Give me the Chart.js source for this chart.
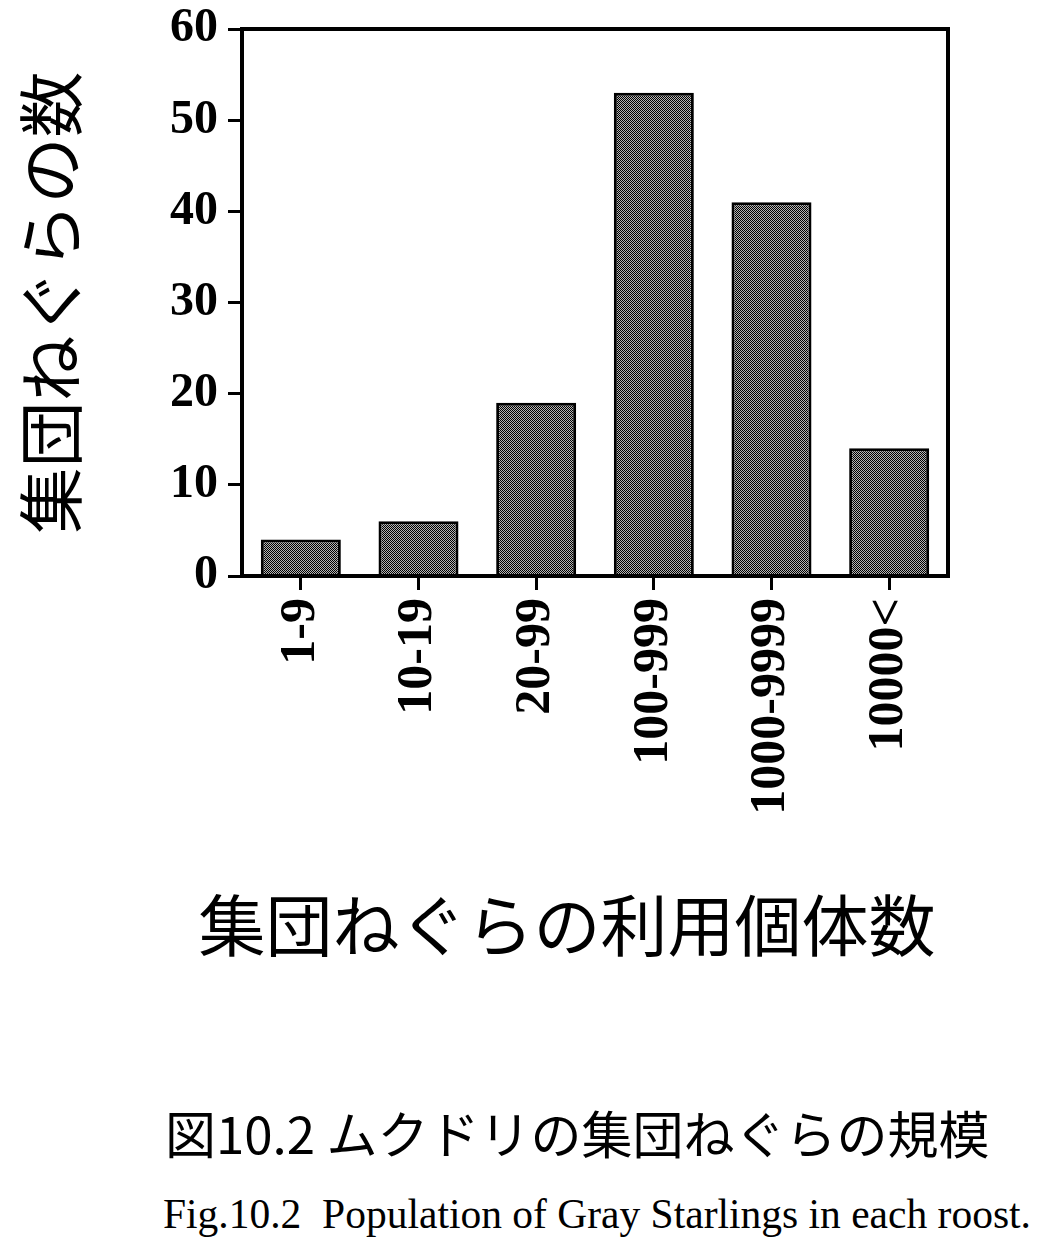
<!DOCTYPE html>
<html lang="ja">

<head>
    <meta charset="UTF-8">
    <title>ムクドリの集団ねぐらの規模</title>
    <script src="https://cdn.jsdelivr.net/npm/chart.js"></script>
    <style>
        body { margin: 0; background: #fff; width: 1052px; height: 1251px; position: relative; overflow: hidden; }
        .chart-box { position: absolute; left: 0; top: 0; width: 1052px; height: 980px; }
        .x-title { position: absolute; left: 0; width: 1134px; top: 877px; text-align: center; font-family: "Noto Sans CJK JP", sans-serif; font-size: 67px; line-height: 90px; color: #000; white-space: nowrap; }
        .cap-jp { position: absolute; left: 165px; top: 1099px; font-family: "Noto Sans CJK JP", sans-serif; font-size: 51px; line-height: 66px; color: #000; white-space: nowrap; }
        .cap-en { position: absolute; left: 163px; top: 1190px; font-family: "Liberation Serif", serif; font-size: 41.5px; line-height: 48px; color: #000; white-space: nowrap; }
    </style>
</head>

<body>

    <div class="chart-box">
        <canvas id="roost-chart"></canvas>
    </div>
    <div class="x-title" id="x-title"></div>
    <div class="cap-jp">図10.2 ムクドリの集団ねぐらの規模</div>
    <div class="cap-en">Fig.10.2&nbsp; Population of Gray Starlings in each roost.</div>

    <script>
        const sizeClasses = ['1-9', '10-19', '20-99', '100-999', '1000-9999', '10000<'];
        const roostCounts = [4, 6, 19, 53, 41, 14];
        const yTicks = [0, 10, 20, 30, 40, 50, 60];
        const yTitle = '集団ねぐらの数';
        const xTitle = '集団ねぐらの利用個体数';

        document.getElementById('x-title').textContent = xTitle;

        // dithered grey like the printed bars
        function ditherPattern() {
            const c = document.createElement('canvas');
            c.width = 2; c.height = 2;
            const g = c.getContext('2d');
            g.fillStyle = '#b4b4b4';
            g.fillRect(0, 0, 2, 2);
            g.fillStyle = '#000';
            g.fillRect(0, 0, 1, 1);
            g.fillRect(1, 1, 1, 1);
            return g.createPattern(c, 'repeat');
        }

        const frame = {
            id: 'frame',
            afterDatasetsDraw(chart) {
                const a = chart.chartArea;
                const ctx = chart.ctx;
                ctx.save();
                ctx.strokeStyle = '#000';
                ctx.lineWidth = 4;
                ctx.strokeRect(a.left, a.top, a.right - a.left, a.bottom - a.top);
                ctx.restore();
            }
        };

        const serif = { family: '"Liberation Serif", "Times New Roman", serif', weight: 'bold' };
        const cjk = '"Noto Sans CJK JP", sans-serif';

        new Chart(document.getElementById('roost-chart'), {
            type: 'bar',
            data: {
                labels: sizeClasses,
                datasets: [{
                    data: roostCounts,
                    backgroundColor: ditherPattern(),
                    borderColor: '#000',
                    borderWidth: 3,
                    barPercentage: 0.68,
                    categoryPercentage: 1
                }]
            },
            options: {
                responsive: true,
                maintainAspectRatio: false,
                animation: false,
                layout: { padding: { top: 29, right: 104, left: 0, bottom: 0 } },
                plugins: { legend: { display: false }, tooltip: { enabled: false } },
                scales: {
                    x: {
                        afterFit(scale) { scale.height = 404; },
                        grid: { offset: false, drawOnChartArea: false, tickLength: 14, tickColor: '#000', tickWidth: 3 },
                        border: { color: '#000', width: 4 },
                        ticks: {
                            color: '#000',
                            minRotation: 90,
                            maxRotation: 90,
                            padding: 8,
                            font: { ...serif, size: 50 }
                        }
                    },
                    y: {
                        min: 0,
                        max: 60,
                        afterFit(scale) {
                            scale.width = 242;
                            scale.paddingTop = 0;
                            scale.paddingBottom = 0;
                        },
                        afterBuildTicks(scale) { scale.ticks = yTicks.map(v => ({ value: v })); },
                        grid: { drawOnChartArea: false, tickLength: 14, tickColor: '#000', tickWidth: 3 },
                        border: { color: '#000', width: 4 },
                        ticks: {
                            color: '#000',
                            padding: 10,
                            font: { ...serif, size: 48 }
                        },
                        title: {
                            display: true,
                            text: yTitle,
                            color: '#000',
                            padding: { top: 11, bottom: 0 },
                            font: { family: cjk, size: 66 }
                        }
                    }
                }
            },
            plugins: [frame]
        });
    </script>

</body>

</html>
